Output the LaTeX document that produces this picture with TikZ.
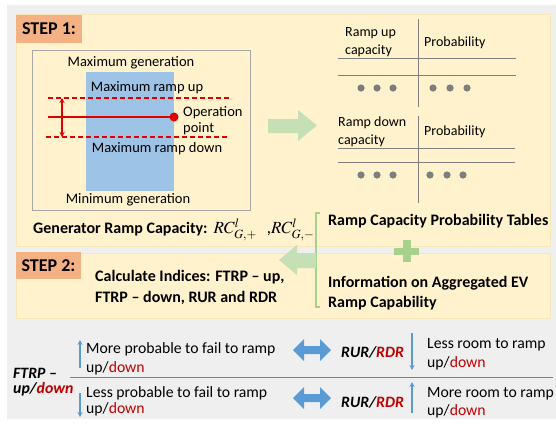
\documentclass[tikz,border=0pt]{standalone}
\usepackage{mathptmx}
\usepackage{fontspec}
\setmainfont{Carlito}
\usetikzlibrary{arrows.meta}
\definecolor{panelgray}{HTML}{EFEFEF}
\definecolor{paleyel}{HTML}{FFF2CC}
\definecolor{yelborder}{HTML}{F6E7B9}
\definecolor{stepor}{HTML}{F4B183}
\definecolor{genblue}{HTML}{9DC3E6}
\definecolor{arrgreen}{HTML}{C5E0B4}
\definecolor{brgreen}{HTML}{A9D18E}
\definecolor{darkred}{HTML}{C00000}
\definecolor{midgray}{HTML}{7F7F7F}
\definecolor{arrblue}{HTML}{5B9BD5}
\definecolor{redline}{HTML}{E00000}
\newcommand{\dn}{\textcolor{darkred}{down}}
\tikzset{
  txt/.style={anchor=base west, inner sep=0pt, font=\fontsize{14.5}{17}\selectfont},
  ctxt/.style={anchor=base, inner sep=0pt, font=\fontsize{14.5}{17}\selectfont},
  tabtxt/.style={anchor=base west, inner sep=0pt, font=\fontsize{14}{17}\selectfont},
  boldtxt/.style={anchor=base west, inner sep=0pt, font=\fontsize{16}{19}\selectfont\bfseries},
  bottxt/.style={anchor=base west, inner sep=0pt, font=\fontsize{15.7}{19}\selectfont},
  bitxt/.style={anchor=base west, inner sep=0pt, font=\fontsize{15.8}{18}\selectfont\bfseries\itshape},
  steplabel/.style={fill=stepor, inner sep=0pt, font=\fontsize{18}{20}\selectfont\bfseries},
  tabline/.style={draw=midgray, line width=1pt},
  dashred/.style={draw=redline, line width=1.3pt, dash pattern=on 5pt off 3pt},
  thinarrow/.style={draw=arrblue, line width=1.2pt, -{Stealth[length=5pt,width=5pt]}},
}
\begin{document}
\begin{tikzpicture}[x=1pt,y=-1pt]
\useasboundingbox (0,0) rectangle (556,424);
\fill[white] (0,0) rectangle (556,424);
% panels
\fill[panelgray] (7,5) rectangle (556,419);
\draw[yelborder, fill=paleyel, line width=0.8pt] (16,14.5) rectangle (550,246);
\draw[yelborder, fill=paleyel, line width=0.8pt] (16,253) rectangle (550,318);
% step labels
\node[steplabel, minimum width=66pt, minimum height=28pt] (step1) at (49,29) {STEP 1:};
\node[steplabel, minimum width=65pt, minimum height=27pt] (step2) at (48.5,265.5) {STEP 2:};
% generator box
\draw[draw=gray!70, line width=0.8pt] (32,50) rectangle (250,210);
\fill[genblue] (86,72) rectangle (174,191);
\node[ctxt] (maxgen) at (131,66.8) {Maximum generation};
\node[ctxt] (maxup) at (147,91.8) {Maximum ramp up};
\node[ctxt] (maxdn) at (157,152.8) {Maximum ramp down};
\node[ctxt] (mingen) at (128,203.8) {Minimum generation};
\node[txt] (op1) at (183,116.8) {Operation};
\node[txt] (op2) at (183,132.8) {point};
\coordinate (dashL1) at (48,98);
\coordinate (dashR1) at (230,98);
\coordinate (dashL2) at (46,137);
\coordinate (dashR2) at (229,137);
\draw[dashred] (dashL1) -- (dashR1);
\draw[dashred] (dashL2) -- (dashR2);
\node[circle, fill=redline, inner sep=0pt, minimum size=9pt] (oppt) at (174,117) {};
\coordinate (opL) at (48,117);
\draw[draw=redline, line width=1.5pt] (opL) -- (oppt.center);
\coordinate (vaT) at (62,98);
\coordinate (vaB) at (62,137);
\draw[draw=redline, line width=1.5pt, {Stealth[length=5pt,width=5pt]}-{Stealth[length=5pt,width=5pt]}] (vaT) -- (vaB);
\node[boldtxt] (genrc) at (33,233.3) {Generator Ramp Capacity:\hspace{6pt}{\mdseries\fontsize{17}{19}\selectfont$RC^{l}_{G,+}$\hspace{10pt},$RC^{l}_{G,-}$}};
% green right arrow
\fill[arrgreen] (268,119) -- (298,119) -- (298,110) -- (317,125.5) -- (298,141) -- (298,133) -- (268,133) -- cycle;
% tables
\coordinate (t1top) at (418,19);
\coordinate (t1bot) at (418,107);
\draw[tabline] (t1top) -- (t1bot);
\coordinate (t1a) at (338,58); \coordinate (t1b) at (516,58);
\coordinate (t1c) at (338,75); \coordinate (t1d) at (516,75);
\draw[tabline] (t1a) -- (t1b);
\draw[tabline] (t1c) -- (t1d);
\node[tabtxt] (ru1) at (345,36.6) {Ramp up};
\node[tabtxt] (ru2) at (345,54.6) {capacity};
\node[tabtxt] (pr1) at (424,46.6) {Probability};
\foreach \x in {361,377,393,433,450,467}{\fill[midgray] (\x,88) circle (3.6pt);}
\coordinate (t2top) at (418,116);
\coordinate (t2bot) at (418,203);
\draw[tabline] (t2top) -- (t2bot);
\coordinate (t2a) at (338,148); \coordinate (t2b) at (515,148);
\coordinate (t2c) at (338,162); \coordinate (t2d) at (515,162);
\draw[tabline] (t2a) -- (t2b);
\draw[tabline] (t2c) -- (t2d);
\node[tabtxt] (rd1) at (338,126.6) {Ramp down};
\node[tabtxt] (rd2) at (338,144.6) {capacity};
\node[tabtxt] (pr2) at (424,135.6) {Probability};
\foreach \x in {361,377,393,430,447,463}{\fill[midgray] (\x,175) circle (3.6pt);}
% bracket and plus
\draw[brgreen, line width=1.6pt] (320,213) -- (316,213) -- (316,307) -- (320,307);
\fill[brgreen] (394,247.5) rectangle (419,254.5);
\fill[brgreen] (403,240) rectangle (410.5,262);
\node[boldtxt] (rcpt) at (328,225.3) {Ramp Capacity Probability Tables};
\node[boldtxt] (inf1) at (328,287.3) {Information on Aggregated EV};
\node[boldtxt] (inf2) at (328,307.3) {Ramp Capability};
% green left arrow
\fill[arrgreen] (316,253) -- (297,253) -- (297,245) -- (279,260) -- (297,275) -- (297,268) -- (316,268) -- cycle;
\node[boldtxt] (ci1) at (95,281.3) {Calculate Indices: FTRP – up,};
\node[boldtxt] (ci2) at (95,302.3) {FTRP – down, RUR and RDR};
% bottom section
\coordinate (sepL) at (70,377);
\coordinate (sepR) at (553,377);
\draw[draw=midgray, line width=1pt] (sepL) -- (sepR);
\node[bitxt] (ftrp1) at (13,378) {FTRP –};
\node[bitxt] (ftrp2) at (13,393) {up/\textcolor{darkred}{down}};
\coordinate (a1s) at (80,368); \coordinate (a1e) at (80,340);
\coordinate (a2s) at (80,393); \coordinate (a2e) at (80,417);
\draw[thinarrow] (a1s) -- (a1e);
\draw[thinarrow] (a2s) -- (a2e);
\node[bottxt] (mp1) at (86,353.3) {More probable to fail to ramp};
\node[bottxt] (mp2) at (86,372.3) {up/\dn};
\node[bottxt] (lp1) at (86,397.3) {Less probable to fail to ramp};
\node[bottxt] (lp2) at (86,413.3) {up/\dn};
\fill[arrblue] (293,350) -- (304,339) -- (304,346) -- (320,346) -- (320,339) -- (331,350) -- (320,361) -- (320,354) -- (304,354) -- (304,361) -- cycle;
\fill[arrblue] (293,398) -- (304,387) -- (304,394) -- (320,394) -- (320,387) -- (331,398) -- (320,409) -- (320,402) -- (304,402) -- (304,409) -- cycle;
\node[bitxt] (rur1) at (341,357.2) {RUR/\textcolor{darkred}{RDR}};
\node[bitxt] (rur2) at (341,407.2) {RUR/\textcolor{darkred}{RDR}};
\coordinate (b1s) at (412,333); \coordinate (b1e) at (412,370);
\coordinate (b2s) at (412,413); \coordinate (b2e) at (412,382);
\draw[thinarrow] (b1s) -- (b1e);
\draw[thinarrow] (b2s) -- (b2e);
\node[bottxt] (lr1) at (427,348.3) {Less room to ramp};
\node[bottxt] (lr2) at (427,367.3) {up/\dn};
\node[bottxt] (mr1) at (427,397.3) {More room to ramp};
\node[bottxt] (mr2) at (427,415.3) {up/\dn};
\end{tikzpicture}
\end{document}
